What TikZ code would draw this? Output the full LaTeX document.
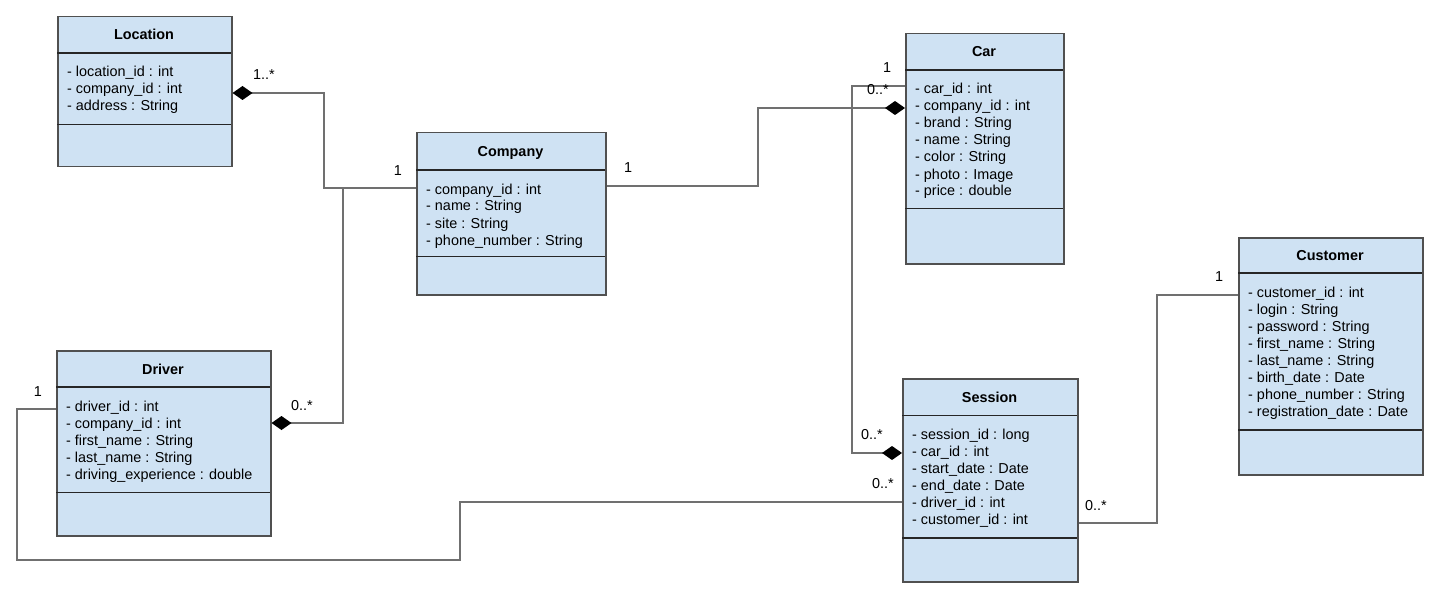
\documentclass[tikz,border=0pt]{standalone}
\usepackage{fontspec}
\setmainfont{Liberation Sans}
\usetikzlibrary{arrows.meta,calc}
\definecolor{boxfill}{HTML}{CFE2F3}
\definecolor{boxline}{HTML}{505050}
\definecolor{connline}{HTML}{707070}
\tikzset{
  classbox/.style={draw=boxline, line width=1.5pt, fill=boxfill, inner sep=0pt, rectangle},
  divline/.style={draw=black!85, line width=1.4pt},
  titletext/.style={inner sep=0pt, font=\fontsize{14.4}{17}\selectfont\bfseries},
  attr/.style={inner sep=0pt, font=\fontsize{14.4}{17}\selectfont},
  mult/.style={inner sep=0pt, font=\fontsize{14.4}{17}\selectfont, anchor=base},
  conn/.style={draw=connline, line width=2pt},
  comp/.style={conn, {Diamond[length=20pt,width=14pt,fill=black,color=black]}-},
  compend/.style={conn, -{Diamond[length=20pt,width=14pt,fill=black,color=black]}},
}
\newcommand{\umlclass}[9]{%
  \node[classbox, anchor=north west, minimum width={(#4-#2)*1pt}, minimum height={(#5-#3)*1pt}] (#1) at (#2,#3) {};
  \draw[divline] (#2,#6) -- (#4,#6);
  \draw[divline] (#2,#7) -- (#4,#7);
  \node[titletext, anchor=base] (#1-t) at ({(#2+#4)/2},{(#3+#6)/2+5.5}) {#8};
  \foreach \txt [count=\i] in {#9}
    \node[attr, anchor=base west] (#1-\i) at ({#2+10},{#6+24+17*(\i-1)}) {\txt};
}
\begin{document}
\begin{tikzpicture}[x=1pt,y=-1pt]
\useasboundingbox (0,0) rectangle (1444,591);

\umlclass{loc}{57}{16}{231}{166}{53}{124.5}{Location}{- location\_id : int, - company\_id : int, - address : String}
\umlclass{comp}{416}{132}{605}{294}{170}{256.5}{Company}{- company\_id : int, - name : String, - site : String, - phone\_number : String}
\umlclass{car}{905}{33}{1063}{263}{70}{208.5}{Car}{- car\_id : int, - company\_id : int, - brand : String, - name : String, - color : String, - photo : Image, - price : double}
\umlclass{cust}{1238}{237}{1422}{474}{273}{430}{Customer}{- customer\_id : int, - login : String, - password : String, - first\_name : String, - last\_name : String, - birth\_date : Date, - phone\_number : String, - registration\_date : Date}
\umlclass{drv}{56}{350}{270}{535}{387}{492.5}{Driver}{- driver\_id : int, - company\_id : int, - first\_name : String, - last\_name : String, - driving\_experience : double}
\umlclass{sess}{902}{378}{1077}{581}{415.5}{538}{Session}{- session\_id : long, - car\_id : int, - start\_date : Date, - end\_date : Date, - driver\_id : int, - customer\_id : int}

% connectors
\draw[comp] (loc.east |- 0,93) -- (324,93) |- (comp.west |- 0,188);
\draw[comp] (drv.east |- 0,423) -- (343,423) |- (comp.west |- 0,188);
\draw[compend] (comp.east |- 0,186) -- (758,186) |- (car.west |- 0,108);
\draw[compend] (car.west |- 0,86) -- (852,86) |- (sess.west |- 0,453);
\draw[conn] (sess.west |- 0,502) -- (460,502) -- (460,560) -- (17,560) |- (drv.west |- 0,409);
\draw[conn] (sess.east |- 0,523) -- (1157,523) |- (cust.west |- 0,295);

% multiplicities
\node[mult] (m1) at (264,80) {1..*};
\node[mult] (m2) at (398,176) {1};
\node[mult] (m3) at (302,410) {0..*};
\node[mult] (m4) at (628,173) {1};
\node[mult] (m5) at (878,95) {0..*};
\node[mult] (m6) at (887,73) {1};
\node[mult] (m7) at (872,439) {0..*};
\node[mult] (m8) at (883,488) {0..*};
\node[mult] (m9) at (1096,510) {0..*};
\node[mult] (m10) at (1219,281) {1};
\node[mult] (m11) at (38,396) {1};
\end{tikzpicture}
\end{document}
